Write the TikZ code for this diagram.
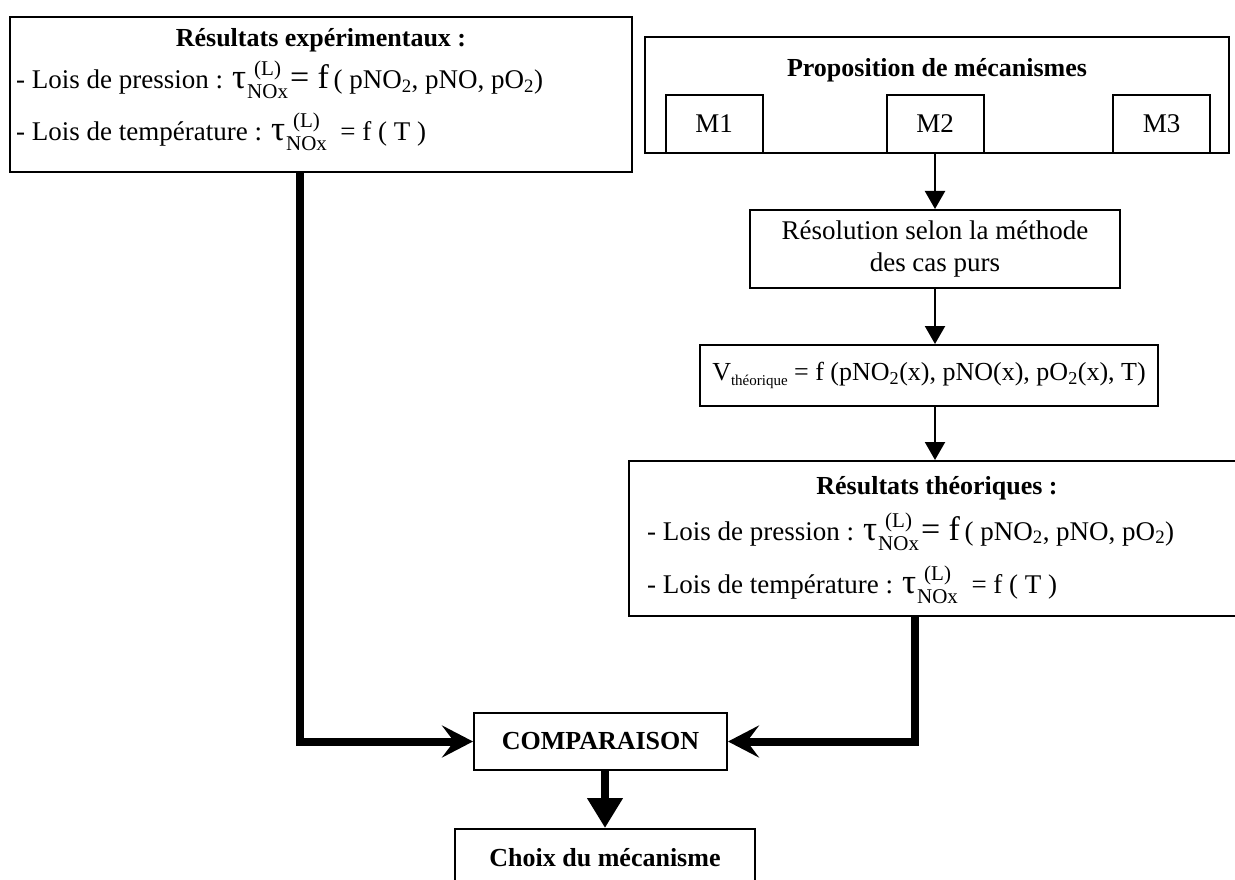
\documentclass[tikz,border=0pt]{standalone}
\usepackage{fontspec}
\setmainfont{Liberation Serif}
\usetikzlibrary{arrows.meta}
\newsavebox\noxbox
\newcommand\tauL{{\fontsize{35}{35}\selectfont τ}\kern1pt\sbox\noxbox{\fontsize{21}{21}\selectfont NOx}\rlap{\makebox[\wd\noxbox][c]{\raisebox{13pt}{\fontsize{21}{21}\selectfont (L)}}}\raisebox{-10pt}{\usebox\noxbox}}
\tikzset{
  bx/.style={draw, line width=2pt, inner sep=0pt},
  txt/.style={inner sep=0pt, font=\fontsize{27}{32}\selectfont},
  bold/.style={font=\fontsize{26}{31}\selectfont\bfseries},
  thinarrow/.style={line width=2.2pt, -{Triangle[length=18pt,width=20pt]}},
  bigarrow/.style={line width=8pt, -{Stealth[length=31pt,width=32pt,inset=12pt]}},
  downarrow/.style={line width=8pt, -{Triangle[length=30pt,width=34pt]}}
}
\begin{document}
\begin{tikzpicture}[x=1pt,y=-1pt]
\useasboundingbox[fill=white] (0,0) rectangle (1235,880);
% left box
\node[bx, minimum width=622pt, minimum height=155pt] (exp) at (321,94.5) {};
\node[txt, bold, anchor=base] (expt) at (321,47) {Résultats expérimentaux :};
\node[txt, anchor=base west] (exp1) at (16,89) {- Lois de pression : \tauL\kern2pt{\fontsize{34}{34}\selectfont= f}\,( pNO\textsubscript{2}, pNO, pO\textsubscript{2})};
\node[txt, anchor=base west] (exp2) at (16,141) {- Lois de température : \tauL\ \ = f ( T )};
% proposition
\node[bx, minimum width=584pt, minimum height=116pt] (prop) at (937,95) {};
\node[txt, bold, anchor=base] (propt) at (937,77) {Proposition de mécanismes};
\node[bx, txt, minimum width=97pt, minimum height=58pt] (m1) at (714,124) {M1};
\node[bx, txt, minimum width=97pt, minimum height=58pt] (m2) at (935,124) {M2};
\node[bx, txt, minimum width=97pt, minimum height=58pt] (m3) at (1161.5,124) {M3};
% resolution
\node[bx, txt, minimum width=370pt, minimum height=78pt, align=center] (res) at (935,249) {Résolution selon la méthode\\des cas purs};
% V
\node[bx, font=\fontsize{26}{31}\selectfont, inner sep=0pt, minimum width=458pt, minimum height=61pt] (v) at (929,375.5) {V\raisebox{-5pt}{\fontsize{15}{15}\selectfont théorique} = f (pNO\textsubscript{2}(x), pNO(x), pO\textsubscript{2}(x), T)};
% theoriques
\node[bx, minimum width=616pt, minimum height=155pt] (theo) at (937,538.5) {};
\node[txt, bold, anchor=base] (theot) at (937,494) {Résultats théoriques :};
\node[txt, anchor=base west] (theo1) at (647,540) {- Lois de pression : \tauL\kern2pt{\fontsize{34}{34}\selectfont= f}\,( pNO\textsubscript{2}, pNO, pO\textsubscript{2})};
\node[txt, anchor=base west] (theo2) at (647,593) {- Lois de température : \tauL\ \ = f ( T )};
% comparaison
\node[bx, txt, bold, minimum width=253pt, minimum height=57pt] (comp) at (600.5,741.5) {COMPARAISON};
\node[bx, minimum width=300pt, minimum height=80pt, anchor=north] (choix) at (605,828) {};
\node[txt, bold, anchor=base] (choixt) at (605,866) {Choix du mécanisme};
% arrows
\draw[thinarrow] (m2.south) -- (res.north);
\draw[thinarrow] (res.south) -- (res.south |- v.north);
\draw[thinarrow] (res.south |- v.south) -- (res.south |- theo.north);
\draw[bigarrow] ([xshift=-21pt]exp.south) |- (comp.west);
\draw[bigarrow] ([xshift=-22pt]theo.south) |- (comp.east);
\draw[downarrow] ([xshift=4.5pt]comp.south) -- (choix.north);
\end{tikzpicture}
\end{document}
